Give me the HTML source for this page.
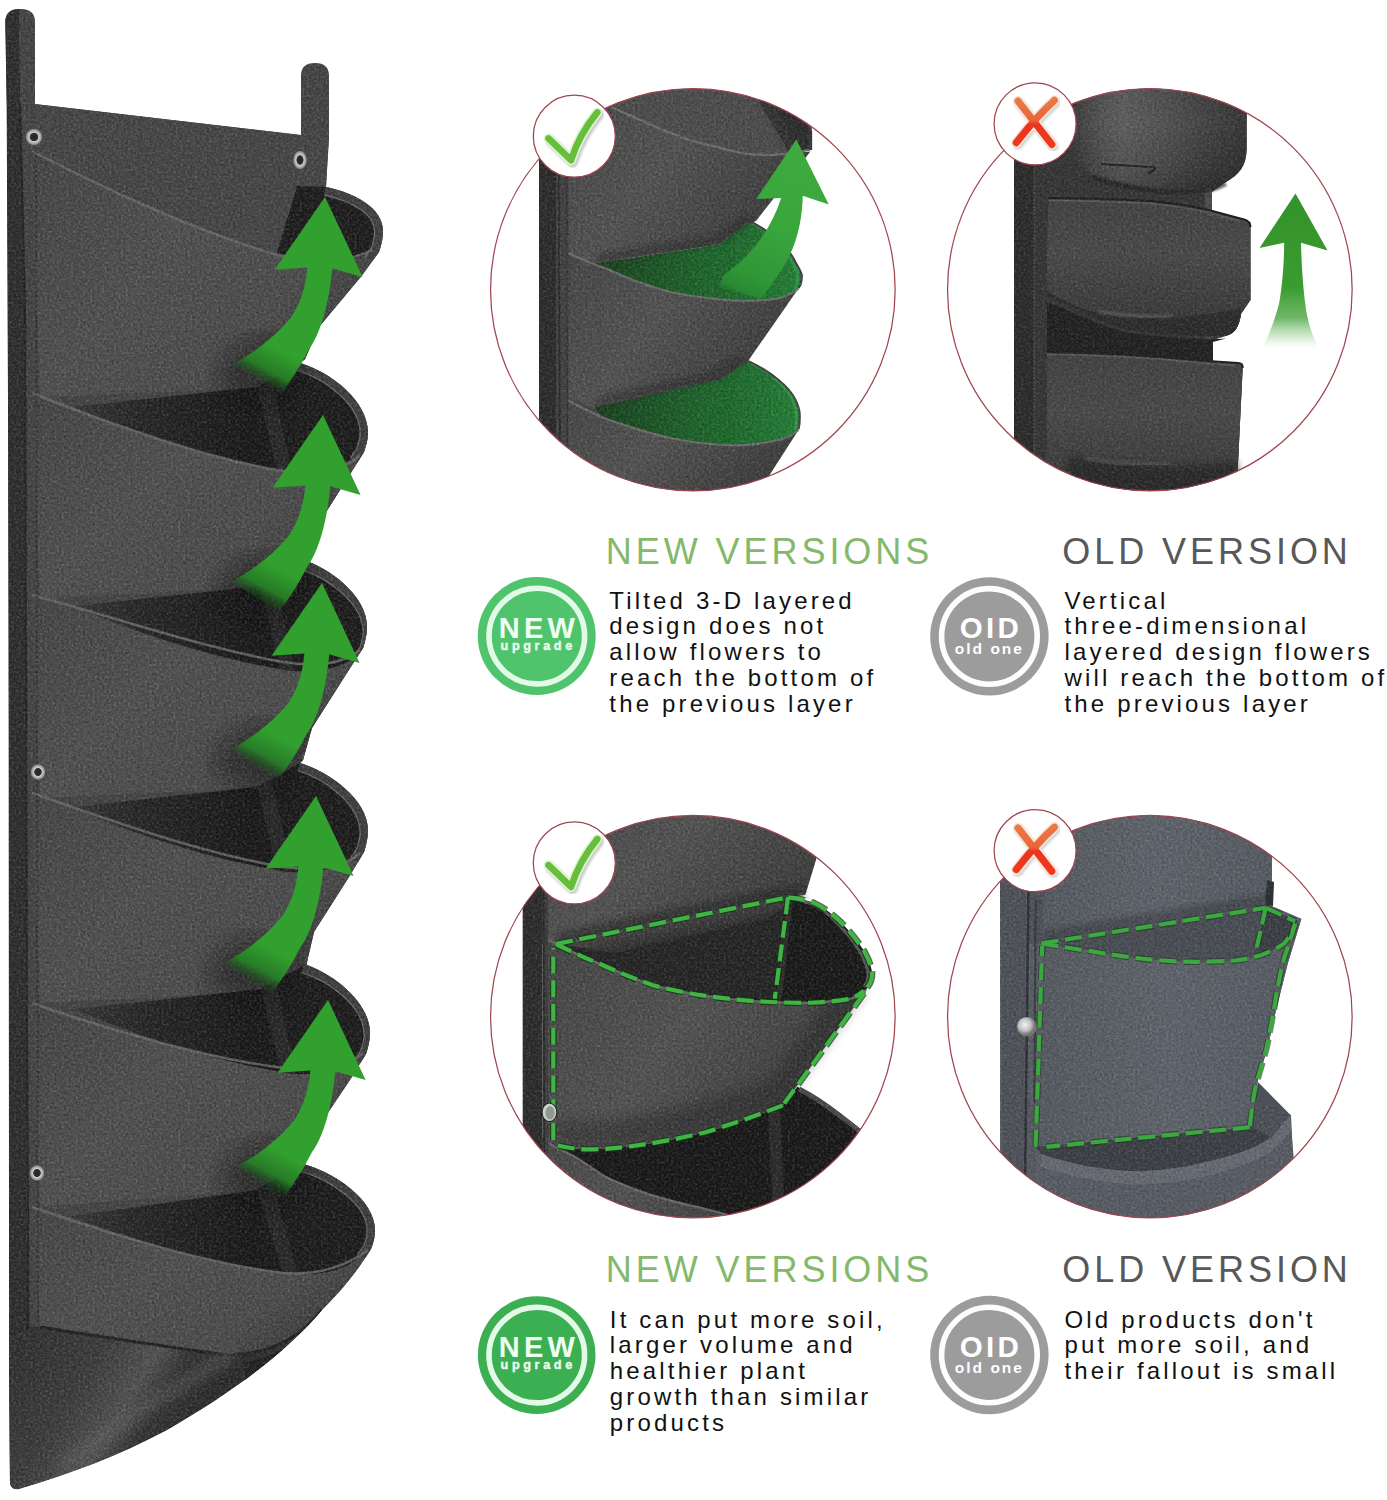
<!DOCTYPE html>
<html>
<head>
<meta charset="utf-8">
<title>Vertical planter comparison</title>
<style>
html,body{margin:0;padding:0;background:#fff;}
body{width:1387px;height:1500px;position:relative;overflow:hidden;font-family:"Liberation Sans",sans-serif;}
svg{position:absolute;left:0;top:0;display:block;}
.t{position:absolute;white-space:nowrap;font-family:"Liberation Sans",sans-serif;}
.h{font-size:36px;line-height:36px;letter-spacing:3.95px;}
.hg{color:#84b96b;}
.hk{color:#585858;}
.b{font-size:24px;line-height:25.85px;letter-spacing:3.17px;color:#111;}
</style>
</head>
<body>
<svg id="art" width="1387" height="1500" viewBox="0 0 1387 1500">
<defs>
<filter id="felt" x="0" y="0" width="100%" height="100%">
  <feTurbulence type="fractalNoise" baseFrequency="0.42" numOctaves="2" seed="7" result="n"/>
  <feColorMatrix in="n" type="matrix" values="0 0 0 0 1  0 0 0 0 1  0 0 0 0 1  1.6 1.6 0 0 -1.35"/>
</filter>
<filter id="feltD" x="0" y="0" width="100%" height="100%">
  <feTurbulence type="fractalNoise" baseFrequency="0.42" numOctaves="2" seed="23" result="n"/>
  <feColorMatrix in="n" type="matrix" values="0 0 0 0 0  0 0 0 0 0  0 0 0 0 0  1.6 1.6 0 0 -1.35"/>
</filter>
<filter id="blur3"><feGaussianBlur stdDeviation="3"/></filter>
<filter id="blur6"><feGaussianBlur stdDeviation="6"/></filter>
<filter id="blur10"><feGaussianBlur stdDeviation="10"/></filter>
<filter id="blur1"><feGaussianBlur stdDeviation="0.8"/></filter>
<linearGradient id="faceG" x1="0" y1="0" x2="1" y2="0.6">
  <stop offset="0" stop-color="#454545"/>
  <stop offset="0.45" stop-color="#505050"/>
  <stop offset="0.8" stop-color="#4c4c4c"/>
  <stop offset="1" stop-color="#3e3e3e"/>
</linearGradient>
<linearGradient id="arrowG" gradientUnits="userSpaceOnUse" x1="-10" y1="70" x2="-72" y2="186">
  <stop offset="0" stop-color="#32a02e"/>
  <stop offset="0.68" stop-color="#32a02e"/>
  <stop offset="0.86" stop-color="#277f27" stop-opacity="0.95"/>
  <stop offset="1" stop-color="#163f16" stop-opacity="0"/>
</linearGradient>
<linearGradient id="flapG" gradientUnits="userSpaceOnUse" x1="20" y1="1340" x2="230" y2="1470">
  <stop offset="0" stop-color="#303030"/>
  <stop offset="0.3" stop-color="#3c3c3c"/>
  <stop offset="0.5" stop-color="#525252"/>
  <stop offset="0.62" stop-color="#333"/>
  <stop offset="0.8" stop-color="#2a2a2a"/>
  <stop offset="1" stop-color="#353535"/>
</linearGradient>
<radialGradient id="gromG">
  <stop offset="0" stop-color="#222"/>
  <stop offset="0.45" stop-color="#333"/>
  <stop offset="0.55" stop-color="#cfcfcf"/>
  <stop offset="0.85" stop-color="#9a9a9a"/>
  <stop offset="1" stop-color="#555"/>
</radialGradient>
<path id="arrowShape" d="M0,0 L37.6,80 L7.2,71.2 C5,100 -3,135 -16,152 C-25,170 -35,185 -44.8,198.4 L-91.2,166.4 C-70,155 -50,140 -33.6,120 C-24,105 -19,88 -17.6,70.4 L-50.4,72.8 Z"/>
<g id="arrowSh">
  <path d="M-70,140 C-95,152 -112,168 -108,190 L-50,212 C-35,190 -20,165 -8,140 Z" fill="#0c0c0c" opacity="0.42" filter="url(#blur10)"/>
</g>
<g id="arrowL">
  <use href="#arrowShape" fill="url(#arrowG)"/>
</g>
<linearGradient id="openG" gradientUnits="userSpaceOnUse" x1="50" y1="0" x2="300" y2="0">
  <stop offset="0" stop-color="#3b3b3b"/>
  <stop offset="0.35" stop-color="#262626"/>
  <stop offset="0.8" stop-color="#181818"/>
  <stop offset="1" stop-color="#1b1b1b"/>
</linearGradient>
<clipPath id="c1"><ellipse cx="692.85" cy="289.7" rx="202.3" ry="201.2"/></clipPath>
<clipPath id="c2"><ellipse cx="1149.85" cy="289.7" rx="202.3" ry="201.2"/></clipPath>
<clipPath id="c3"><ellipse cx="692.85" cy="1016.65" rx="202.3" ry="201.2"/></clipPath>
<clipPath id="c4"><ellipse cx="1149.85" cy="1016.65" rx="202.3" ry="201.2"/></clipPath>
<linearGradient id="faceC" x1="0" y1="0" x2="1" y2="0.5">
  <stop offset="0" stop-color="#454545"/>
  <stop offset="0.5" stop-color="#525252"/>
  <stop offset="1" stop-color="#3c3c3c"/>
</linearGradient>
<linearGradient id="greenIn" gradientUnits="userSpaceOnUse" x1="594" y1="0" x2="800" y2="0">
  <stop offset="0" stop-color="#173f1c"/>
  <stop offset="0.4" stop-color="#1b5e28"/>
  <stop offset="0.75" stop-color="#1e6f2e"/>
  <stop offset="1" stop-color="#238036"/>
</linearGradient>
<linearGradient id="arrowC1" gradientUnits="userSpaceOnUse" x1="800" y1="150" x2="738" y2="296">
  <stop offset="0" stop-color="#3dab3f"/>
  <stop offset="0.5" stop-color="#39a63c"/>
  <stop offset="0.85" stop-color="#2f9636"/>
  <stop offset="0.96" stop-color="#2a8c33" stop-opacity="0.9"/>
  <stop offset="1" stop-color="#23802f" stop-opacity="0.2"/>
</linearGradient>
<linearGradient id="arrowC2" gradientUnits="userSpaceOnUse" x1="0" y1="195" x2="0" y2="349">
  <stop offset="0" stop-color="#33922b"/>
  <stop offset="0.6" stop-color="#3a9c30"/>
  <stop offset="0.8" stop-color="#55ab4c" stop-opacity="0.85"/>
  <stop offset="0.92" stop-color="#8fca88" stop-opacity="0.4"/>
  <stop offset="1" stop-color="#cfe9cb" stop-opacity="0"/>
</linearGradient>
<linearGradient id="oldFace" x1="0" y1="0" x2="0" y2="1">
  <stop offset="0" stop-color="#424242"/>
  <stop offset="0.4" stop-color="#494949"/>
  <stop offset="0.8" stop-color="#3c3c3c"/>
  <stop offset="1" stop-color="#2e2e2e"/>
</linearGradient>
<linearGradient id="oldFaceH" x1="0" y1="0" x2="1" y2="0">
  <stop offset="0" stop-color="#000" stop-opacity="0.2"/>
  <stop offset="0.3" stop-color="#fff" stop-opacity="0.12"/>
  <stop offset="0.55" stop-color="#fff" stop-opacity="0.05"/>
  <stop offset="0.75" stop-color="#000" stop-opacity="0.05"/>
  <stop offset="1" stop-color="#000" stop-opacity="0.25"/>
</linearGradient>
<linearGradient id="crossG" gradientUnits="userSpaceOnUse" x1="0" y1="-24" x2="0" y2="21">
  <stop offset="0" stop-color="#ea7a45"/>
  <stop offset="0.45" stop-color="#e9653a"/>
  <stop offset="0.55" stop-color="#e8351f"/>
  <stop offset="1" stop-color="#ee3a1c"/>
</linearGradient>
<g id="check" fill="none" stroke-linecap="round" stroke-linejoin="round">
  <path d="M-25.8,2.2 L-3.3,24 Q5,-2 23,-23.8" stroke="#9aa39a" stroke-width="10.5" opacity="0.55" transform="translate(1.6,2.2)" filter="url(#blur1)"/>
  <path d="M-25.8,2.2 L-3.3,24 Q5,-2 23,-23.8" stroke="#dff5cf" stroke-width="10"/>
  <path d="M-25.8,2.2 L-3.3,24 Q5,-2 23,-23.8" stroke="#67bd3c" stroke-width="6.6"/>
</g>
<g id="cross" fill="none" stroke-linecap="round" stroke-linejoin="round">
  <g transform="translate(1.5,2)" stroke="#a9b3b3" stroke-width="10.5" opacity="0.55" filter="url(#blur1)">
    <path d="M-17,-22.7 L16.7,20.5"/><path d="M19.3,-23.5 Q2,-8 -18.8,18.8"/>
  </g>
  <g stroke="#fbe3d9" stroke-width="10.4">
    <path d="M-17,-22.7 L16.7,20.5"/><path d="M19.3,-23.5 Q2,-8 -18.8,18.8"/>
  </g>
  <g stroke="url(#crossG)" stroke-width="7.2">
    <path d="M-17,-22.7 L16.7,20.5"/><path d="M19.3,-23.5 Q2,-8 -18.8,18.8"/>
  </g>
</g>
<linearGradient id="blueFace" x1="0" y1="0" x2="1" y2="0">
  <stop offset="0" stop-color="#555a61"/>
  <stop offset="0.5" stop-color="#5e636b"/>
  <stop offset="1" stop-color="#565b63"/>
</linearGradient>
<radialGradient id="snapG" cx="0.4" cy="0.4">
  <stop offset="0" stop-color="#f2f2f2"/>
  <stop offset="0.6" stop-color="#c4c4c4"/>
  <stop offset="1" stop-color="#777"/>
</radialGradient>

  <g id="dash3" fill="none" stroke-dasharray="17 6.8" stroke-linejoin="round">
    <path d="M553.3,1140 L553.3,948"/>
    <path d="M556,944 L788,897.3"/>
    <path d="M788,897.3 L774.8,998.7"/>
    <path d="M556,944 C570,951 585,958 600,964 C618,972 635,979 653.4,985.4 C671,990 689,993.5 706.7,996 C724,998.5 742,1000.5 760,1001.4 C778,1002.5 796,1003 813.4,1002.7 C826,1002 839,1001 850.8,998.7 C856,997 860,994 864,990.7"/>
    <path d="M788,897.3 C797,898 805,900 813.4,902.7 C823,907 832,913.5 840,921.4 C849,930 857,940 864,950.7 C868,958 871,965 872,972 C872.5,978 870.5,983.5 866.8,988"/>
    <path d="M864,993.4 L782.8,1105.4"/>
    <path d="M782.8,1105.4 C758,1115 732,1124 706.7,1132 C680,1138.5 653,1143.5 626.7,1146.8 C613,1148.5 600,1149.4 586.7,1149.4 C576,1149 566,1147.5 557.3,1145.4"/>
  </g>

<g id="dash4" fill="none" stroke-dasharray="17 6.8" stroke-linejoin="round">
  <path d="M1041.5,943.4 L1265.8,907.8"/>
  <path d="M1265.8,907.8 L1295.2,921.3"/>
  <path d="M1295.2,923.7 C1292,935 1288,946 1284.2,958 C1280,974 1277,990 1274.4,1007 C1272,1020 1269.5,1033 1267,1046.3 C1264,1058 1260.5,1069 1257.2,1080.6 C1255.5,1086 1254.5,1092 1253.5,1097.8 C1252,1107 1251,1116 1249.9,1126"/>
  <path d="M1249.9,1127.2 L1046.4,1146.8"/>
  <path d="M1035.6,1146.8 L1042.2,946"/>
  <path d="M1041.5,943.4 C1057,946 1072,948.5 1088,950.7 C1104,953.5 1120,956 1137,958 C1153,960 1170,961.3 1186,961.7 C1202,962 1219,961.5 1235.2,960.5 C1244,959.5 1252,958 1259.7,955.6 C1268,952.5 1277,948.5 1284.2,943.4 C1289,938 1293,931 1295.2,923.7"/>
  <path d="M1265.8,907.8 L1256,950.7"/>
</g>

<clipPath id="b1"><path d="M539,80 L800,80 L811,132 L810.4,151.4 L756.3,220.6 L747.7,220.6 C760,226 770,233 778,240 C786,247 792,255 795.2,261.7 C799,268 801,272 801.7,274.7 C802,280 801,285 798.5,288.5 L747.7,361.5 C760,367 770,373 778,379.5 C786,386 792,393 795,399 C798,405 799.6,410 799.6,414 C800,421 799.5,425 798.5,430 L767,479 L745,505 L539,505 Z"/></clipPath>
<clipPath id="b2"><path d="M1014,80 L1246.6,80 L1246.6,150 C1246,166 1240,174 1226,182 L1212,192 L1212,212 L1250.4,222 L1250.4,300 L1241,314 C1239,328 1234,334 1226,336 L1212.8,340 L1212.8,361 L1242.7,363.5 L1236,505 L1014,505 Z"/></clipPath>
<clipPath id="b3"><path d="M522.7,806 L824,806 L816,860 L805.4,894.7 C823,907 832,913.5 840,921.4 C849,930 857,940 864,950.7 C868,958 871,965 872,972 C872.5,978 870.5,984 866,990 L864,993.4 L782.8,1105.4 L797.4,1086.8 C812,1094 826,1103 840,1113.4 C849,1120 857,1126 864,1132 C885,1150 900,1175 910,1200 L910,1240 L522.7,1240 Z"/></clipPath>
<clipPath id="b4"><path d="M1000,806 L1272,806 L1272,884 L1267,904 L1301.4,918.8 L1287.9,963 L1275.6,1012 L1268,1046 L1258,1080 L1254.8,1095.3 L1291,1115 L1296,1240 L1000,1240 Z"/></clipPath>
<linearGradient id="tuckG" gradientUnits="userSpaceOnUse" x1="690" y1="915" x2="696" y2="942">
  <stop offset="0" stop-color="#454545"/>
  <stop offset="0.6" stop-color="#333"/>
  <stop offset="1" stop-color="#1f1f1f"/>
</linearGradient>
</defs>
<g id="planter">
  <!-- silhouette -->
  <clipPath id="silClip">
    <path id="silPath" d="M5.3,22 Q5.3,9 20,9 Q35,9 35,22 L35,104 L301,135 L301,76 Q301,63 315,63 Q329,63 329,76 L329,138 L326,187
      C355,193 383,208 383,231 C383,240 381,246 379,252 L361.6,276 L319,327 L305,359 L300,363
      C330,372 368,400 368,433 C368,440 366,446 364,452 L349,476 L316,528 L309,559 L309,562
      C335,572 367,598 367,627 C367,634 365,642 363,648 L347,673 L312,728 L303,760 L300,763
      C330,772 368,800 368,830 C368,838 366,846 364,852 L349,877 L314,932 L307,962 L307,965
      C335,975 370,1003 370,1033 C370,1041 368,1048 366,1054 L350,1080 L315,1132 L303,1160 L300,1163
      C335,1172 375,1200 375,1230 C375,1238 373,1244 371,1249
      C355,1275 340,1292 322,1310
      C290,1348 240,1388 167,1430 C120,1455 70,1474 22,1488 Q13,1492 10,1484
      L9.1,1380 L8.7,730 L8,400 L6.7,107 L5.3,22 Z"/>
  </clipPath>
  <use href="#silPath" fill="#444"/>
  <g clip-path="url(#silClip)">
    <!-- back panel top -->
    <path d="M36,104 L329,138 L326,190 L290,260 L30,150 Z" fill="#464646"/>
    <!-- pocket faces -->
    <path d="M32,151 C110,192 200,232 277,255 C320,262 360,262 381,247 L310,360 L255,388 L40,397 Z" fill="url(#faceG)"/>
    <path d="M32,393 C100,420 200,457 277,470 C320,474 350,466 366,448 L309,560 L255,588 L40,598 Z" fill="url(#faceG)"/>
    <path d="M32,595 C100,613 200,647 283,662 C320,668 350,660 365,645 L302,762 L255,788 L40,798 Z" fill="url(#faceG)"/>
    <path d="M32,793 C100,817 200,853 283,867 C320,872 350,862 366,848 L307,964 L255,992 L40,1003 Z" fill="url(#faceG)"/>
    <path d="M32,1003 C100,1027 200,1057 277,1067 C320,1071 350,1064 368,1050 L302,1162 L255,1190 L40,1207 Z" fill="url(#faceG)"/>
    <path d="M32,1207 C100,1230 200,1263 283,1273 C320,1275 350,1262 373,1245 C355,1275 340,1292 322,1310 C290,1350 250,1358 212,1353 C140,1343 85,1334 40,1327 Z" fill="url(#faceG)"/>
    <!-- bottom flap -->
    <path d="M9,1326 L40,1327 C85,1334 140,1343 212,1353 C250,1358 290,1350 322,1310 C290,1348 240,1388 167,1430 C120,1455 70,1474 22,1488 L9,1490 L9,1330 Z" fill="url(#flapG)"/>
    <path d="M40,1327 C85,1334 140,1343 212,1353 C250,1358 290,1350 322,1310" fill="none" stroke="#222" stroke-width="3"/>
    <path d="M245,1362 C275,1358 300,1340 322,1312 L300,1345 C285,1362 268,1378 245,1392 Z" fill="#1c1c1c" opacity="0.75"/>
    <path d="M60,1470 C120,1420 190,1380 235,1352" fill="none" stroke="#666" stroke-width="14" opacity="0.45" filter="url(#blur6)"/>
    <!-- openings (dark) -->
    <path d="M277,253 L297,186 L326,187 C355,193 381,208 381,231 C381,242 372,256 350,259 C320,262 300,259 277,253 Z" fill="#1c1c1c"/>
    <path d="M326,187 C355,193 383,208 383,231 C383,240 381,246 379,252 L372,262" fill="none" stroke="#858585" stroke-width="18" opacity="0.8"/>
    <path d="M326,187 C355,193 383,208 383,231 C383,240 381,246 379,252 L372,262" fill="none" stroke="#404040" stroke-width="15.5"/>
    <g id="op2">
      <path d="M72,407 L257,387 L300,363 C330,372 366,400 366,433 C366,452 345,470 310,472 C290,473 280,471 277,470 C200,457 125,430 72,408 Z" fill="url(#openG)"/>
      <path d="M257,387 L277,470 L292,472 L272,380 Z" fill="#2a2a2a" opacity="0.8"/>
      <path d="M300,363 C330,372 368,400 368,433 C368,440 366,446 364,452 L357,462" fill="none" stroke="#808080" stroke-width="17" opacity="0.8"/>
      <path d="M300,363 C330,372 368,400 368,433 C368,440 366,446 364,452 L357,462" fill="none" stroke="#3e3e3e" stroke-width="14.5"/>
    </g>
    <use href="#op2" transform="translate(3,199)"/>
    <use href="#op2" transform="translate(0,400)"/>
    <use href="#op2" transform="translate(4,602)"/>
    <g transform="translate(0,800)">
      <path d="M72,416 L257,390 L300,363 C335,372 373,400 373,430 C373,452 350,472 312,474 C290,475 283,473 283,473 C200,463 125,438 72,417 Z" fill="url(#openG)"/>
      <path d="M257,390 L283,473 L298,474 L272,382 Z" fill="#2a2a2a" opacity="0.8"/>
      <path d="M300,363 C335,372 375,400 375,430 C375,438 373,444 371,449 L364,459" fill="none" stroke="#808080" stroke-width="17" opacity="0.8"/>
      <path d="M300,363 C335,372 375,400 375,430 C375,438 373,444 371,449 L364,459" fill="none" stroke="#3e3e3e" stroke-width="14.5"/>
    </g>
    <!-- front edge rims (light lines) -->
    <g fill="none" stroke="#6a6a6a" stroke-width="2.5" opacity="0.9">
      <path d="M32,151 C110,192 200,232 277,255 C320,262 350,262 372,250"/>
      <path d="M32,393 C100,420 200,457 277,470 C320,476 345,470 360,455"/>
      <path d="M32,595 C100,613 200,647 283,662 C320,668 345,662 360,650"/>
      <path d="M32,793 C100,817 200,853 283,867 C320,872 345,866 360,853"/>
      <path d="M32,1003 C100,1027 200,1057 277,1067 C320,1072 348,1066 363,1053"/>
      <path d="M32,1207 C100,1230 200,1263 283,1273 C320,1276 350,1264 368,1250"/>
    </g>
    <!-- left band -->
    <path d="M5,9 L19,9 L20,104 L25,300 L27,1000 L28.5,1330 L10,1335 L9.1,1380 L8.7,730 L8,400 L6.7,107 L5,22 Z" fill="#2d2d2d"/>
    <path d="M20,104 L25,300 L27,1000 L28.5,1330" fill="none" stroke="#242424" stroke-width="2"/>
    <path d="M36,150 L38,1322" fill="none" stroke="#2f2f2f" stroke-width="2" stroke-dasharray="3 2" opacity="0.8"/>
    <use href="#arrowSh" transform="translate(325,197)"/>
    <use href="#arrowSh" transform="translate(323,415)"/>
    <use href="#arrowSh" transform="translate(322,583)"/>
    <use href="#arrowSh" transform="translate(316,796)"/>
    <use href="#arrowSh" transform="translate(328,1000)"/>
    <!-- felt noise -->
    <rect x="0" y="0" width="400" height="1500" filter="url(#felt)" opacity="0.16"/>
    <rect x="0" y="0" width="400" height="1500" filter="url(#feltD)" opacity="0.22"/>
  </g>
  <!-- grommets -->
  <ellipse cx="34" cy="137" rx="8.5" ry="8.5" fill="url(#gromG)"/>
  <ellipse cx="300" cy="160" rx="7" ry="9.5" fill="url(#gromG)"/>
  <ellipse cx="38" cy="772" rx="7.5" ry="8" fill="url(#gromG)"/>
  <ellipse cx="37" cy="1173" rx="7.5" ry="8" fill="url(#gromG)"/>
  <!-- arrows -->
  <use href="#arrowL" transform="translate(325,197)"/>
  <use href="#arrowL" transform="translate(323,415)"/>
  <use href="#arrowL" transform="translate(322,583)"/>
  <use href="#arrowL" transform="translate(316,796)"/>
  <use href="#arrowL" transform="translate(328,1000)"/>
</g>

<!-- ===== Circle 1: NEW top ===== -->
<g clip-path="url(#c1)">
  <rect x="480" y="80" width="420" height="420" fill="#fff"/>
  <path d="M540,80 L620,80 L620,260 L745,300 L745,440 L760,479 L745,505 L540,505 Z" fill="#484848"/>
  <!-- pocket 1 interior (top) -->
  <path d="M600,80 L800,80 L811,132 L811,150 L784,154 C760,157 745,154 735,151.5 C720,148 705,144 691,140.5 C675,135 660,129 648,123.5 C635,118 622,112 611,107 Z" fill="#4c4c4c"/>
  <path d="M747,80 L800,80 L811,132 L811,150 L790,154 Z" fill="#2c2c2c"/>
  <path d="M747,80 L760,80 L800,152 L790,154 Z" fill="#3a3a3a" opacity="0.6" filter="url(#blur3)"/>
  <!-- pocket 1 face -->
  <path d="M568,85 L611,107 C622,112 635,118 648,123.5 C660,129 675,135 691,140.5 C705,144 720,148 735,151.5 C745,154 760,157 784,154 L810.4,151.4 L756.3,220.6 L730,236 L719.5,244.4 L648,255.2 L594,264 L559.5,249 L559.5,85 Z" fill="url(#faceC)"/>
  <!-- pocket 2 green opening -->
  <path d="M594,264 L648,255.2 L719.5,244.4 L730,235.7 L747.7,220.6 C760,226 770,233 778,240 C786,247 792,255 795.2,261.7 C799,268 801,272 801.7,274.7 C802,280 801,285 798.5,288 C790,295 784,297 778,298.5 C765,300.5 750,300.6 734.7,300.6 C712,299 690,296 669.8,292 C648,286 626,278 605,268 Z" fill="url(#greenIn)"/>
  <path d="M719.5,244.4 L722,300 L735,300.6 L731,236 Z" fill="#1a6a28" opacity="0.55"/>
  <!-- pocket 2 rim light band -->
  <path d="M750,222 C764,229 774,237 781,245 C789,254 795,264 797,274 C798,280 797,285 795,289" fill="none" stroke="#2f9a42" stroke-width="3"/>
  <!-- pocket 2 face -->
  <path d="M559.5,248.7 C575,257 590,263 605,268 C626,278 648,286 669.8,292 C690,296 712,299 734.7,300.6 C750,301 765,300.5 778,298.5 C786,297 793,293 798.5,288.5 L747.7,361.5 L719.5,379.5 L594,407.6 L558.4,394.7 Z" fill="url(#faceC)"/>
  <!-- pocket 3 green opening -->
  <path d="M594,407.6 L719.5,379.5 L747.7,361 C760,367 770,373 778,379.5 C786,386 792,393 795,399 C798,405 799.6,410 799.6,414 C800,421 799.5,425 798.5,429.3 C792,436 785,438.5 778,440 C765,443.5 750,445 734.7,445.5 C712,445 690,442 669.8,438 C648,433 626,426 605,418.5 Z" fill="url(#greenIn)"/>
  <path d="M719.5,379.5 L722,445 L735,445.5 L731,372 Z" fill="#1a6a28" opacity="0.55"/>
  <path d="M750,362.5 C764,369 774,376 781,384 C789,392 794,401 796,410 C797,418 796.5,424 795,429" fill="none" stroke="#2f9a42" stroke-width="3"/>
  <!-- pocket 3 face -->
  <path d="M558.4,394.7 C575,405 590,412 605,418.5 C626,426 648,433 669.8,438 C690,442 712,445 734.7,445.5 C750,445 765,443.5 778,440 C786,438.5 793,435 798.5,430 L767,479 L745,505 L558,505 Z" fill="url(#faceC)"/>
  <!-- rims -->
  <g fill="none" stroke="#6e6e6e" stroke-width="2.2">
    <path d="M611,107 C622,112 635,118 648,123.5 C660,129 675,135 691,140.5 C705,144 720,148 735,151.5 C745,154 760,157 784,154 C795,153 804,151 810.4,149"/>
    <path d="M559.5,248.7 C575,257 590,263 605,268 C626,278 648,286 669.8,292 C690,296 712,299 734.7,300.6 C750,301 765,300.5 778,298.5 C786,297 793,293 798.5,288.5"/>
    <path d="M558.4,394.7 C575,405 590,412 605,418.5 C626,426 648,433 669.8,438 C690,442 712,445 734.7,445.5 C750,445 765,443.5 778,440 C786,438.5 793,435 798.5,430"/>
  </g>
  <path d="M747.7,220.6 C760,226 770,233 778,240 C786,247 792,255 795.2,261.7 C799,268 801,272 801.7,274.7 C802,280 801,285 798.5,288" fill="none" stroke="#454545" stroke-width="2.2"/>
  <path d="M747.7,361 C760,367 770,373 778,379.5 C786,386 792,393 795,399 C798,405 799.6,410 799.6,414 C800,421 799.5,425 798.5,429.3" fill="none" stroke="#454545" stroke-width="2.2"/>
  <path d="M790,85 C800,100 810,118 810.4,132 L810.4,150" fill="none" stroke="#3a3a3a" stroke-width="3.5"/>
  <!-- face shading near tuck -->
  <path d="M594,264 L648,255.2 L719.5,244.4 L756.3,220.6 L745,215 L715,236 L600,254 Z" fill="#2c2c2c" opacity="0.55" filter="url(#blur3)"/>
  <path d="M594,407.6 L719.5,379.5 L747.7,361.5 L738,356 L712,371 L600,397 Z" fill="#2c2c2c" opacity="0.55" filter="url(#blur3)"/>
  <!-- left band -->
  <rect x="539" y="80" width="17" height="425" fill="#2b2b2b"/>
  <rect x="556" y="80" width="12.5" height="425" fill="#414141"/>
  <path d="M558.5,90 L560,505" stroke="#2a2a2a" stroke-width="1.6" fill="none"/>
  <path d="M566.5,160 L567.5,505" stroke="#343434" stroke-width="1.2" fill="none"/>
  <g clip-path="url(#b1)">
  <rect x="480" y="80" width="420" height="425" filter="url(#felt)" opacity="0.15"/>
  <rect x="480" y="80" width="420" height="425" filter="url(#feltD)" opacity="0.2"/>
  </g>
  <!-- arrow -->
  <path d="M796.3,139.5 L828.8,204.4 L802.8,195.7 C802,225 795,252 778,274.7 C772,284 766,292 760.6,298.5 L719.5,287.7 C721,282 722,278 723.9,274.7 C750,257 770,232 781.2,197.9 L756.3,199 Z" fill="url(#arrowC1)"/>
</g>
<ellipse cx="692.85" cy="289.7" rx="202.3" ry="201.2" fill="none" stroke="#a04650" stroke-width="1.25"/>
<circle cx="574.3" cy="136.2" r="41" fill="#fff" stroke="#a04650" stroke-width="1.25"/>
<use href="#check" transform="translate(574.3,136.2)"/>

<!-- ===== Circle 2: OLD top ===== -->
<g clip-path="url(#c2)">
  <rect x="940" y="80" width="420" height="420" fill="#fff"/>
  <!-- body -->
  <path d="M1014,80 L1246.6,80 L1246.6,150 C1246,165 1240,172 1226,182 L1212,192 L1212,212 L1250.4,222 L1250.4,300 L1240,314 C1238,328 1234,334 1226,336 L1212.8,340 L1212.8,361 L1242.7,363.5 L1236,505 L1014,505 Z" fill="#353535"/>
  <!-- back strips right -->
  <path d="M1205,188 L1212,188 L1212,216 L1205,212 Z" fill="#4a4a4a"/>
  <path d="M1206,336 L1212.8,336 L1212.8,362 L1206,361 Z" fill="#4a4a4a"/>
  <!-- top pocket -->
  <path d="M1076,80 L1246.6,80 L1246.6,150 C1246,166 1240,174 1226,182 C1215,188 1200,190.5 1185,190.5 C1150,190 1120,184 1093,175 C1080,168 1072,158 1071.5,148 C1071,130 1073,105 1076,80 Z" fill="url(#oldFace)"/>
  <path d="M1076,80 L1246.6,80 L1246.6,150 C1246,166 1240,174 1226,182 C1215,188 1200,190.5 1185,190.5 C1150,190 1120,184 1093,175 C1080,168 1072,158 1071.5,148 C1071,130 1073,105 1076,80 Z" fill="url(#oldFaceH)"/>
  <path d="M1101,164 L1152,167 C1155,167 1156,168.5 1154,170 L1148,173.5" fill="none" stroke="#232323" stroke-width="2.2"/>
  <path d="M1101,162 L1152,165" fill="none" stroke="#585858" stroke-width="1.5"/>
  <path d="M1093,177 C1120,186 1150,192 1185,192.5 C1200,192.5 1215,190 1226,184" fill="none" stroke="#222" stroke-width="4" opacity="0.7" filter="url(#blur1)"/>
  <!-- middle pocket -->
  <path id="midP" d="M1048.5,198 C1085,198 1120,199.5 1151.4,201 C1172,203 1190,206 1207.7,209.8 L1244,219.5 C1249,221 1250.4,223 1250.4,227 L1250.4,300 L1241,314 C1239,328 1234,334 1226,335.5 C1210,337 1196,336 1181.7,335 C1163,334 1146,332.5 1129.8,329.8 C1113,326 1098,320.5 1085.6,314.2 C1070,307 1056,301 1046,296 Z" fill="url(#oldFace)"/>
  <use href="#midP" fill="url(#oldFaceH)"/>
  <!-- mid pocket lower underside + fold highlight -->
  <path d="M1046,290 C1060,300 1080,309 1100,313.5 C1125,318 1150,319 1170,318 C1195,316.5 1220,313 1241,308 L1241,314 C1239,328 1234,334 1226,335.5 C1210,337 1196,336 1181.7,335 C1163,334 1146,332.5 1129.8,329.8 C1113,326 1098,320.5 1085.6,314.2 C1070,307 1056,301 1046,296 Z" fill="#2a2a2a" opacity="0.85"/>
  <path d="M1098,311 C1125,316.5 1150,317.5 1172,316" fill="none" stroke="#686868" stroke-width="4" opacity="0.55" filter="url(#blur1)"/>
  <path d="M1048.5,198 C1085,198 1120,199.5 1151.4,201 C1172,203 1190,206 1207.7,209.8 L1244,219.5 C1249,221 1250.4,223 1250.4,227" fill="none" stroke="#1f1f1f" stroke-width="2.2"/>
  <path d="M1049,200.5 C1085,200.5 1120,202 1151.4,203.5 C1172,205.5 1190,208.5 1207.7,212.3 L1240,221" fill="none" stroke="#5c5c5c" stroke-width="1.6"/>
  <!-- gap 2 -->
  <path d="M1040,300 C1056,305 1070,311 1085.6,318 C1098,324 1113,329.5 1129.8,333 C1146,335.5 1163,337 1181.7,338 C1196,339 1210,340 1226,338.5 L1212.8,342 L1212.8,362 L1040,352 Z" fill="#212121"/>
  <!-- bottom pocket -->
  <path id="botP" d="M1039,351.8 C1100,352 1160,356 1207.6,361 L1238,363 C1242,363.3 1242.7,365 1242.7,368 L1236,505 L1039,505 Z" fill="url(#oldFace)"/>
  <use href="#botP" fill="url(#oldFaceH)"/>
  <path d="M1039,351.8 C1100,352 1160,356 1207.6,361 L1238,363 C1242,363.3 1242.7,365 1242.7,368" fill="none" stroke="#1f1f1f" stroke-width="2.2"/>
  <path d="M1039,354.3 C1100,354.5 1160,358.5 1207.6,363.5 L1236,365.5" fill="none" stroke="#5c5c5c" stroke-width="1.6"/>
  <path d="M1070,455 C1100,462 1140,466 1180,466 L1238,462 L1236,505 L1060,505 Z" fill="#262626" opacity="0.8" filter="url(#blur3)"/>
  <path d="M1085,458 C1110,463 1140,465 1170,464" fill="none" stroke="#666" stroke-width="4" opacity="0.5" filter="url(#blur1)"/>
  <!-- left band -->
  <rect x="1014" y="80" width="20" height="425" fill="#2b2b2b"/>
  <rect x="1034" y="80" width="13" height="425" fill="#353535"/>
  <path d="M1034.2,150 L1034.2,505" stroke="#555" stroke-width="1.3" stroke-dasharray="2 1.5" fill="none"/>
  <!-- arrow -->
  <path d="M1295.5,193.5 L1327.5,250.6 L1301,242.8 C1301.5,265 1303,290 1306.3,311.6 C1309,326 1313,338 1319,348 L1262,348 C1268,338 1274,322 1279,303.8 C1282,288 1284,265 1284.2,242.8 L1259.5,248 Z" fill="url(#arrowC2)"/>
  <g clip-path="url(#b2)">
  <rect x="940" y="80" width="420" height="425" filter="url(#felt)" opacity="0.13"/>
  <rect x="940" y="80" width="420" height="425" filter="url(#feltD)" opacity="0.18"/>
  </g>
</g>
<ellipse cx="1149.85" cy="289.7" rx="202.3" ry="201.2" fill="none" stroke="#a04650" stroke-width="1.25"/>
<circle cx="1035.1" cy="123.85" r="41" fill="#fff" stroke="#a04650" stroke-width="1.25"/>
<use href="#cross" transform="translate(1035.1,123.85)"/>
<!-- ===== Circle 3: NEW bottom ===== -->
<g clip-path="url(#c3)">
  <rect x="480" y="806" width="420" height="420" fill="#fff"/>
  <!-- upper body / upper pocket face -->
  <path d="M523,806 L824,806 L816,860 L805.4,894.7 L788,897.3 L556,944 L523,944 Z" fill="url(#faceC)"/>
  <path d="M556,944 L788,897.3 L805.4,894.7 L800,885 L780,888 L560,932 Z" fill="#222" opacity="0.55" filter="url(#blur3)"/>
  <!-- main opening dark -->
  <path d="M556,944 L788,897.3 C797,898 805,900 813.4,902.7 C823,907 832,913.5 840,921.4 C849,930 857,940 864,950.7 C868,958 871,965 872,972 C872.5,978 870.5,984 866,990 L866,990 C862,994 858,996.5 850.8,998.7 C839,1001 826,1002 813.4,1002.7 C796,1003 778,1002.5 760,1001.4 C742,1000.5 724,998.5 706.7,996 C689,993.5 671,990 653.4,985.4 C635,979 618,972 600,964 C585,958 570,951 556,944 Z" fill="#181818"/>
  <path d="M556,944 L788,897.3 L774.8,998.7 L706.7,996 C689,993.5 671,990 653.4,985.4 C635,979 618,972 600,964 C585,958 570,951 556,944 Z" fill="#242424"/>
  <path d="M788,897.3 L776,998 L781.5,1000 L793,897 Z" fill="#2e2e2e"/>
  <path d="M556,944 L788,897.3 L789,903 L768,919 L616,953 Z" fill="url(#tuckG)"/>
  <!-- rim light band -->
  <path d="M792,899 C800,900 807,902 813,905 C822,909 830,915 837,923 C846,932 854,942 860,952 C864,959 867,966 868,972 C868.5,978 867,983 864,987" fill="none" stroke="#5a5a5a" stroke-width="3"/>
  <!-- main pocket face -->
  <path d="M548,940 L556,944 C570,951 585,958 600,964 C618,972 635,979 653.4,985.4 C671,990 689,993.5 706.7,996 C724,998.5 742,1000.5 760,1001.4 C778,1002.5 796,1003 813.4,1002.7 C826,1002 839,1001 850.8,998.7 C858,996.5 862,994 866,990 L864,993.4 L782.8,1105.4 C758,1115 732,1124 706.7,1132 C680,1138.5 653,1143.5 626.7,1146.8 C613,1148.5 600,1149.4 586.7,1149.4 C576,1149 566,1147.5 557.3,1145.4 L548,1140 Z" fill="url(#faceC)"/>
  <!-- shading at bottom/right of face -->
  <path d="M866,990 L864,993.4 L782.8,1105.4 C758,1115 732,1124 706.7,1132 C680,1138.5 653,1143.5 626.7,1146.8 C613,1148.5 600,1149.4 586.7,1149.4 C576,1149 566,1147.5 557.3,1145.4 L557,1120 C620,1125 700,1105 770,1080 L835,990 Z" fill="#1e1e1e" opacity="0.35" filter="url(#blur6)"/>
  <!-- lower opening dark -->
  <path d="M548,1140 L557.3,1145.4 C566,1147.5 576,1149 586.7,1149.4 C600,1149.4 613,1148.5 626.7,1146.8 C653,1143.5 680,1138.5 706.7,1132 C732,1124 758,1115 782.8,1105.4 L797.4,1086.8 C812,1094 826,1103 840,1113.4 C849,1120 857,1126 864,1132 C885,1150 900,1175 910,1200 L910,1240 L800,1240 C770,1228 730,1215 702,1208 C668,1201 635,1192 602,1175 C590,1166 580,1160 573.4,1156 C563,1151 553,1146 544,1140 Z" fill="#181818"/>
  <path d="M768,1112 L774,1240 L786,1240 L780,1108 Z" fill="#2a2a2a"/>
  <!-- lower rim band -->
  <path d="M799,1089 C813,1096 826,1105 839,1115 C848,1122 856,1128 863,1134 C880,1149 893,1168 902,1190" fill="none" stroke="#4a4a4a" stroke-width="5"/>
  <!-- lower pocket face -->
  <path d="M541,1138 C553,1146 563,1151 573.4,1156 C580,1160 590,1166 602,1175 C635,1192 668,1201 702,1208 C730,1215 770,1228 800,1240 L520,1240 Z" fill="url(#faceC)"/>
  <!-- rims -->
  <g fill="none" stroke="#6b6b6b" stroke-width="2.2">
    <path d="M548,940 L556,944 C570,951 585,958 600,964 C618,972 635,979 653.4,985.4 C671,990 689,993.5 706.7,996 C724,998.5 742,1000.5 760,1001.4 C778,1002.5 796,1003 813.4,1002.7 C826,1002 839,1001 850.8,998.7 C858,996.5 862,994 866,990"/>
    <path d="M541,1138 C553,1146 563,1151 573.4,1156 C580,1160 590,1166 602,1175 C635,1192 668,1201 702,1208 C730,1215 770,1228 800,1240"/>
  </g>
  <!-- left band -->
  <rect x="522.7" y="806" width="20" height="430" fill="#2b2b2b"/>
  <rect x="542.7" y="806" width="5.5" height="430" fill="#3d3d3d"/>
  <path d="M543.5,820 L544.5,1230" stroke="#262626" stroke-width="1.5" fill="none"/>
  <!-- dashed outline -->
  <g clip-path="url(#b3)">
  <rect x="480" y="806" width="420" height="420" filter="url(#felt)" opacity="0.15"/>
  <rect x="480" y="806" width="420" height="420" filter="url(#feltD)" opacity="0.2"/>
  </g>
  <use href="#dash3" stroke="#123815" stroke-width="6.6" opacity="0.75"/>
  <use href="#dash3" stroke="#41b446" stroke-width="4.2"/>
  <ellipse cx="549.4" cy="1112.3" rx="7.6" ry="9.6" fill="#1a1a1a"/>
  <ellipse cx="549.4" cy="1112.3" rx="6.8" ry="8.8" fill="#c9cfc9"/>
  <ellipse cx="550" cy="1112.8" rx="4.6" ry="6.6" fill="#8f998f"/>

</g>
<ellipse cx="692.85" cy="1016.65" rx="202.3" ry="201.2" fill="none" stroke="#a04650" stroke-width="1.25"/>
<circle cx="574.3" cy="862.95" r="41" fill="#fff" stroke="#a04650" stroke-width="1.25"/>
<use href="#check" transform="translate(574.3,862.95)"/>

<!-- ===== Circle 4: OLD bottom ===== -->
<g clip-path="url(#c4)">
  <rect x="940" y="806" width="420" height="430" fill="#fff"/>
  <!-- body -->
  <path d="M1000,806 L1272,806 L1272,884 L1267,904 L1301.4,918.8 L1287.9,963 L1275.6,1012 L1268,1046 L1258,1080 L1254.8,1095.3 L1291,1115 L1296,1240 L1000,1240 Z" fill="#595d65"/>
  <!-- back of body left of upper pocket -->
  <path d="M1028,806 L1076,806 L1075,828 C1062,842 1052,862 1046,884 L1042,944 L1028,944 Z" fill="#4d5158"/>
  <!-- upper pocket -->
  <path d="M1076,806 L1272,806 L1272,884 L1265.8,907.8 L1041.5,943.4 L1046,884 C1052,862 1062,842 1075,828 Z" fill="url(#blueFace)"/>
  <path d="M1041.5,943.4 L1265.8,907.8 L1270,893 L1262,895 L1044,930 Z" fill="#33363b" opacity="0.5" filter="url(#blur3)"/>
  <!-- small dark gap right of upper pocket -->
  <path d="M1267,880 L1274,882 L1273,906 L1265,905 Z" fill="#2d3035"/>
  <!-- opening inner -->
  <path d="M1041.5,943.4 L1265.8,907.8 L1298,921 L1295.2,923.7 C1293,931 1289,938 1284.2,943.4 C1277,948.5 1268,952.5 1259.7,955.6 C1252,958 1244,959.5 1235.2,960.5 C1219,961.5 1202,962 1186,961.7 C1170,961.3 1153,960 1137,958 C1120,956 1104,953.5 1088,950.7 C1072,948.5 1057,946 1041.5,943.4 Z" fill="#484c53"/>
  <path d="M1265.8,907.8 L1298,921 L1295.2,923.7 C1293,931 1289,938 1284.2,943.4 C1277,948.5 1268,952.5 1256,951 Z" fill="#3a3d43"/>
  <!-- main pocket face -->
  <path d="M1041.5,943.4 C1057,946 1072,948.5 1088,950.7 C1104,953.5 1120,956 1137,958 C1153,960 1170,961.3 1186,961.7 C1202,962 1219,961.5 1235.2,960.5 C1244,959.5 1252,958 1259.7,955.6 C1268,952.5 1277,948.5 1284.2,943.4 C1289,938 1293,931 1295.2,923.7 L1301.4,918.8 L1287.9,963 L1275.6,1012 L1268,1046 L1258,1080 L1254.8,1095.3 L1252,1127 L1036,1147 Z" fill="url(#blueFace)"/>
  <!-- inner area right of notch (inside lower rim) -->
  <path d="M1254.8,1095.3 L1258,1082 L1290.5,1115 L1272,1137 L1251,1128 Z" fill="#4c5057"/>
  <!-- shadow gap under main pocket -->
  <path d="M1036,1147 L1252,1127 L1272,1137 C1262,1144 1250,1149.5 1235.2,1154.2 C1219,1159 1202,1163 1186,1166.5 C1170,1169 1153,1170.8 1137,1171.4 C1120,1171 1104,1169 1088,1166.5 C1072,1163 1057,1159 1041.5,1154.2 Z" fill="#3b3e44"/>
  <!-- lower rim band -->
  <path d="M1041.5,1154.2 C1057,1159 1072,1163 1088,1166.5 C1104,1169 1120,1171 1137,1171.4 C1153,1170.8 1170,1169 1186,1166.5 C1202,1163 1219,1159 1235.2,1154.2 C1250,1149.5 1262,1144 1272,1137 L1290.3,1115 L1291.5,1129.7 C1283,1143 1272,1152 1258,1159 C1240,1167 1220,1174 1200,1178 C1180,1182 1158,1184.5 1137,1184.5 C1120,1184.5 1104,1182 1088,1179 C1072,1176 1057,1172 1040,1167 Z" fill="#656971"/>
  <!-- lower pocket face -->
  <path d="M1040,1167 C1057,1172 1072,1176 1088,1179 C1104,1182 1120,1184.5 1137,1184.5 C1158,1184.5 1180,1182 1200,1178 C1220,1174 1240,1167 1258,1159 C1272,1152 1283,1143 1291.5,1129.7 L1300,1240 L1036,1240 Z" fill="#575b63"/>
  <!-- left band -->
  <path d="M999.5,806 L1027,806 L1023,1240 L1003,1240 Z" fill="#4d5158"/>
  <path d="M1028.5,880 L1024.5,1240" stroke="#2c2f34" stroke-width="2.6" fill="none"/>
  <path d="M1035.6,900 L1034,1150" stroke="#383b41" stroke-width="2.2" fill="none"/>
  <path d="M1028,1100 L1036,1104 L1036,1240 L1025,1240 Z" fill="#555960"/>
  <!-- dashed outline -->
  <g clip-path="url(#b4)">
  <rect x="940" y="806" width="420" height="430" filter="url(#felt)" opacity="0.14"/>
  <rect x="940" y="806" width="420" height="430" filter="url(#feltD)" opacity="0.16"/>
  </g>
  <use href="#dash4" stroke="#1a3a1c" stroke-width="6.4" opacity="0.6"/>
  <use href="#dash4" stroke="#3da741" stroke-width="4.2"/>
  <circle cx="1026.8" cy="1026.7" r="9.8" fill="url(#snapG)"/>
</g>
<ellipse cx="1149.85" cy="1016.65" rx="202.3" ry="201.2" fill="none" stroke="#a04650" stroke-width="1.25"/>
<circle cx="1035.1" cy="850.7" r="41" fill="#fff" stroke="#a04650" stroke-width="1.25"/>
<use href="#cross" transform="translate(1035.1,850.7)"/>

<circle cx="536.7" cy="636.1" r="59" fill="#50c46d"/>
<circle cx="536.7" cy="1355.1" r="58.8" fill="#3daf53"/>
<g id="badgeNew">
  <circle cx="536.8" cy="636.1" r="47.8" fill="none" stroke="#e4fae9" stroke-width="5.6"/>
  <text x="539" y="637.6" text-anchor="middle" font-family="Liberation Sans, sans-serif" font-weight="bold" font-size="29" letter-spacing="4.2" fill="#effff2">NEW</text>
  <text x="538.2" y="649.7" text-anchor="middle" font-family="Liberation Sans, sans-serif" font-weight="bold" font-size="12.7" letter-spacing="3.6" fill="#e8fbec" stroke="#e8fbec" stroke-width="0.45">upgrade</text>
</g>
<use href="#badgeNew" transform="translate(0,719)"/>
<g id="badgeOld">
  <circle cx="989.4" cy="636.4" r="59.2" fill="#9c9c9c"/>
  <circle cx="989.4" cy="636.4" r="47.8" fill="none" stroke="#fdfdfd" stroke-width="5.6"/>
  <text x="991" y="638.1" text-anchor="middle" font-family="Liberation Sans, sans-serif" font-weight="bold" font-size="29.5" letter-spacing="3.3" fill="#fff">OID</text>
  <text x="989.4" y="654.3" text-anchor="middle" font-family="Liberation Sans, sans-serif" font-weight="bold" font-size="15.5" letter-spacing="2" fill="#fff">old one</text>
</g>
<use href="#badgeOld" transform="translate(0,718.6)"/>

</svg>

<div class="t h hg" style="left:605.8px;top:533.8px;">NEW VERSIONS</div>
<div class="t h hk" style="left:1062.3px;top:533.8px;">OLD VERSION</div>
<div class="t b" style="left:609.3px;top:587.6px;">Tilted 3-D layered<br>design does not<br>allow flowers to<br>reach the bottom of<br>the previous layer</div>
<div class="t b" style="left:1064.5px;top:587.6px;">Vertical<br>three-dimensional<br>layered design flowers<br>will reach the bottom of<br>the previous layer</div>

<div class="t h hg" style="left:605.8px;top:1252.4px;">NEW VERSIONS</div>
<div class="t h hk" style="left:1062.3px;top:1252.4px;">OLD VERSION</div>
<div class="t b" style="left:609.8px;top:1306.5px;">It can put more soil,<br>larger volume and<br>healthier plant<br>growth than similar<br>products</div>
<div class="t b" style="left:1064.5px;top:1306.5px;">Old products don't<br>put more soil, and<br>their fallout is small</div>
</body>
</html>
